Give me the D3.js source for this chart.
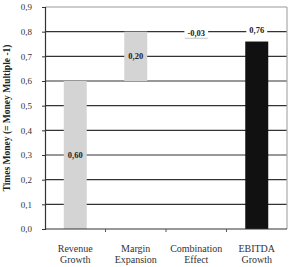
<!DOCTYPE html>
<html><head><meta charset="utf-8">
<script src="https://cdn.jsdelivr.net/npm/d3@7/dist/d3.min.js"></script>
<style>body{margin:0;background:#fff}svg{display:block}</style>
</head><body>
<script>
const categories = [["Revenue","Growth"],["Margin","Expansion"],["Combination","Effect"],["EBITDA","Growth"]];
const values = [0.60, 0.20, -0.03, 0.76];
const labels = ["0,60","0,20","-0,03","0,76"];
const isTotal = [false,false,false,true];
const yTicks = [0,0.1,0.2,0.3,0.4,0.5,0.6,0.7,0.8,0.9];
const yTitle = "Times Money (= Money Multiple -1)";

const W=292,H=267, m={l:45,r:5,t:7,b:38};
const svg=d3.select("body").append("svg").attr("width",W).attr("height",H);
const x=d3.scaleBand().domain(d3.range(categories.length)).range([m.l,W-m.r]).paddingInner(0.62).paddingOuter(0.31);
const y=d3.scaleLinear().domain([0,0.9]).range([H-m.b,m.t]);
const fmt=d=>d3.format(".1f")(d).replace(".",",");

// grid
svg.append("g").selectAll("line").data(yTicks.slice(1)).join("line")
 .attr("x1",m.l).attr("x2",W-m.r).attr("y1",d=>y(d)).attr("y2",d=>y(d))
 .attr("stroke",d=>d===0.9?"#999":"#333").attr("stroke-width",1.2);
// right frame
svg.append("line").attr("x1",W-m.r).attr("x2",W-m.r).attr("y1",y(0.9)).attr("y2",y(0)).attr("stroke","#aaa").attr("stroke-width",1.2);

// bars
let cum=0; const bars=values.map((v,i)=>{let lo,hi; if(isTotal[i]){lo=0;hi=v;} else {const s=cum; cum+=v; lo=Math.min(s,cum); hi=Math.max(s,cum);} return {i,v,lo,hi};});
svg.append("g").selectAll("rect").data(bars).join("rect")
 .attr("x",d=>x(d.i)).attr("width",x.bandwidth())
 .attr("y",d=>y(d.hi)).attr("height",d=>y(d.lo)-y(d.hi))
 .attr("fill",d=>isTotal[d.i]?"#111":"#d4d4d4");

// labels
const lab=svg.append("g").attr("font-family","Liberation Serif").attr("font-size",8.5).attr("font-weight","bold").attr("fill","#222");
bars.forEach(d=>{
  const cx=x(d.i)+x.bandwidth()/2;
  let ly;
  if(isTotal[d.i]) ly=y(d.hi)-9;
  else if(d.v<0) ly=y(d.hi)+4;
  else ly=y((d.lo+d.hi)/2)+3;
  const t=lab.append("text").attr("x",cx).attr("y",ly).attr("text-anchor","middle").text(labels[d.i]);
  if(d.v<0||isTotal[d.i]){
    const bb=t.node().getBBox();
    lab.insert("rect","text").attr("x",bb.x-3).attr("y",bb.y).attr("width",bb.width+6).attr("height",bb.height).attr("fill","#fff");
  }
});

// y axis
const ya=svg.append("g").attr("transform",`translate(${m.l},0)`)
 .call(d3.axisLeft(y).tickValues(yTicks).tickFormat(fmt).tickSize(3).tickPadding(10));
ya.select(".domain").attr("stroke","#333").attr("stroke-width",1.2);
ya.selectAll(".tick line").attr("stroke","#333");
ya.selectAll("text").attr("font-family","Liberation Serif").attr("font-size",9).attr("fill","#333");

// x axis
const xa=svg.append("g").attr("transform",`translate(0,${y(0)})`);
xa.append("line").attr("x1",m.l).attr("x2",W-m.r).attr("stroke","#333").attr("stroke-width",1.2);
const step=x.step();
xa.selectAll(".bt").data(d3.range(1,categories.length)).join("line")
 .attr("x1",d=>x(d)-x.paddingInner()*step/2).attr("x2",d=>x(d)-x.paddingInner()*step/2)
 .attr("y1",0).attr("y2",3).attr("stroke","#555");
const cl=svg.append("g").attr("font-family","Liberation Serif").attr("font-size",10).attr("fill","#333").attr("text-anchor","middle");
categories.forEach((c,i)=>{
  const t=cl.append("text").attr("x",x(i)+x.bandwidth()/2).attr("y",252);
  c.forEach((s,k)=>t.append("tspan").attr("x",x(i)+x.bandwidth()/2).attr("dy",k?11:0).text(s));
});

svg.append("text").attr("transform",`translate(10,${(y(0)+y(0.9))/2}) rotate(-90)`)
 .attr("text-anchor","middle").attr("font-family","Liberation Serif").attr("font-size",9.5).attr("font-weight","bold").attr("fill","#222").text(yTitle);
</script>
</body></html>
